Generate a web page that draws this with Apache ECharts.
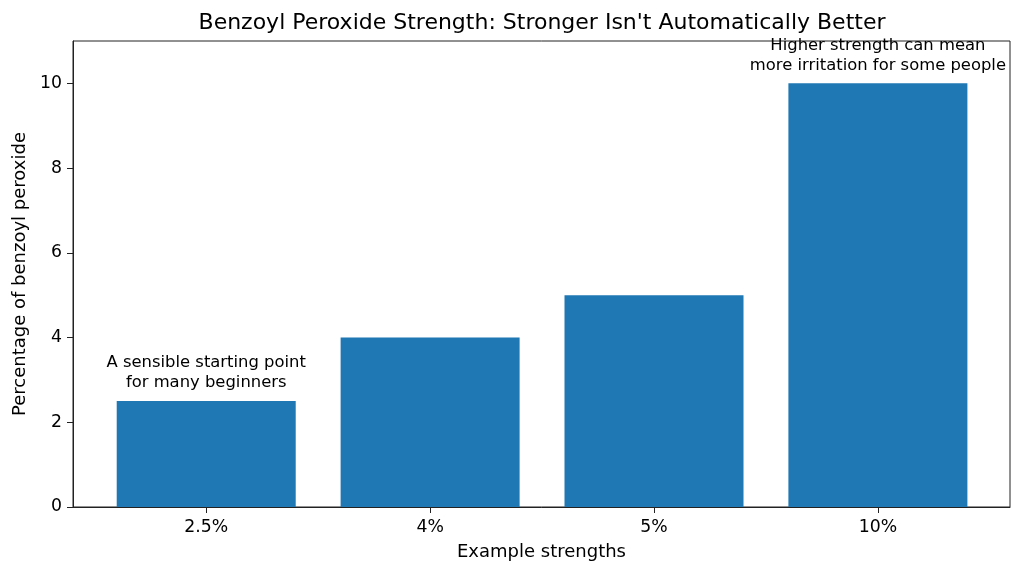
<!DOCTYPE html>
<html lang="en">
<head>
    <meta charset="UTF-8">
    <title>Benzoyl Peroxide Strength</title>
    <style>
        html, body {
            margin: 0;
            padding: 0;
            background: #fff;
        }

        #chart1 {
            width: 1024px;
            height: 575px;
        }
    </style>
</head>
<body>
<div id="chart1"></div>
<script src="https://cdn.jsdelivr.net/npm/echarts@6/dist/echarts.min.js"></script>
<script type="text/javascript">
    // data
    var strengths = ['2.5%', '4%', '5%', '10%'];
    var percents = [2.5, 4, 5, 10];
    var notes = [
        'A sensible starting point\nfor many beginners',
        '',
        '',
        'Higher strength can mean\nmore irritation for some people'
    ];
    var yTicks = [0, 2, 4, 6, 8, 10];

    var positions = strengths.map(function (s, i) {
        return i;
    });

    var font = 'DejaVu Sans';
    var ink = '#000';
    var frame = '#222';

    var barData = percents.map(function (v, i) {
        return {
            value: [i, v],
            label: {
                show: notes[i] !== '',
                formatter: notes[i]
            }
        };
    });

    var chart1 = echarts.init(document.getElementById('chart1'));

    chart1.setOption({
        animation: false,
        backgroundColor: '#fff',
        textStyle: {fontFamily: font, color: ink},
        title: {
            text: "Benzoyl Peroxide Strength: Stronger Isn't Automatically Better",
            left: 537,
            top: 7,
            textAlign: 'center',
            textStyle: {fontFamily: font, fontSize: 22, fontWeight: 'normal', color: ink}
        },
        grid: {
            left: 73,
            right: 14,
            top: 41,
            bottom: 68,
            show: true,
            borderColor: frame,
            borderWidth: 1,
            backgroundColor: 'transparent'
        },
        xAxis: {
            type: 'value',
            min: -0.595,
            max: 3.59,
            z: 10,
            name: 'Example strengths',
            nameLocation: 'middle',
            nameGap: 36,
            nameTextStyle: {fontFamily: font, fontSize: 18, color: ink},
            axisLine: {show: true, onZero: false, lineStyle: {color: frame, width: 1}},
            axisTick: {
                show: true,
                length: 6,
                customValues: positions,
                lineStyle: {color: frame}
            },
            axisLabel: {
                customValues: positions,
                margin: 12,
                fontFamily: font,
                fontSize: 17.3,
                color: ink,
                formatter: function (v) {
                    return strengths[Math.round(v)];
                }
            },
            splitLine: {show: false}
        },
        yAxis: {
            type: 'value',
            min: 0,
            max: 11,
            z: 10,
            name: 'Percentage of benzoyl peroxide',
            nameLocation: 'middle',
            nameGap: 44,
            nameTextStyle: {fontFamily: font, fontSize: 18, color: ink},
            axisLine: {show: true, onZero: false, lineStyle: {color: frame, width: 1}},
            axisTick: {
                show: true,
                length: 6,
                customValues: yTicks,
                lineStyle: {color: frame}
            },
            axisLabel: {
                customValues: yTicks,
                margin: 11,
                fontFamily: font,
                fontSize: 17.3,
                color: ink
            },
            splitLine: {show: false}
        },
        series: [{
            type: 'bar',
            barWidth: 179,
            data: barData,
            itemStyle: {color: '#1f77b4'},
            label: {
                position: 'top',
                distance: 8,
                align: 'center',
                fontFamily: font,
                fontSize: 16.4,
                lineHeight: 20,
                color: ink
            }
        }]
    });
</script>
</body>
</html>
